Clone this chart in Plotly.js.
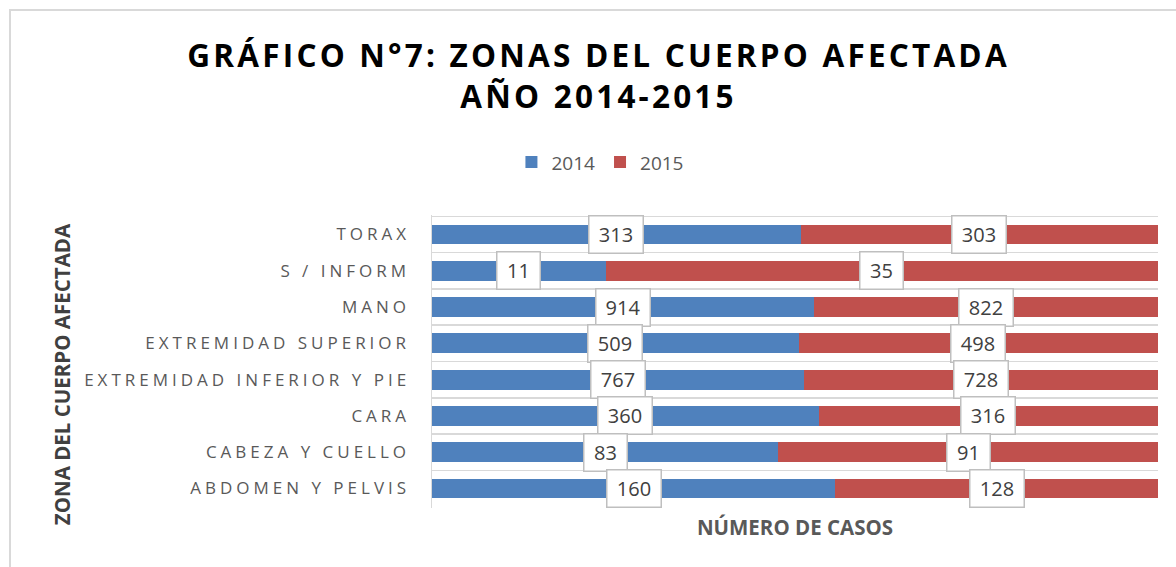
<!DOCTYPE html>
<html>
<head>
<meta charset="utf-8">
<script src="https://cdn.plot.ly/plotly-3.0.1.min.js"></script>
<style>
  html, body { margin: 0; padding: 0; background: #fff; }
  #chart { width: 1176px; height: 567px; position: absolute; left: 0; top: 0; }
  #frame { position: absolute; left: 9px; top: 9px; width: 1300px; height: 700px;
           border-left: 2px solid #d9d9d9; border-top: 2px solid #d9d9d9; pointer-events: none; }
  .ytick text { letter-spacing: 4px; }
  .gtitle { letter-spacing: 3.2px; }
</style>
</head>
<body>
<div id="chart"></div>
<div id="frame"></div>
<script>
// Data (top to bottom as shown)
const categories = ["TORAX", "S / INFORM", "MANO", "EXTREMIDAD SUPERIOR",
  "EXTREMIDAD INFERIOR Y PIE", "CARA", "CABEZA Y CUELLO", "ABDOMEN Y PELVIS"];
const values2014 = [313, 11, 914, 509, 767, 360, 83, 160];
const values2015 = [303, 35, 822, 498, 728, 316, 91, 128];
const seriesNames = ["2014", "2015"];
const colors = ["#4f81bd", "#c0504d"];

const traces = [values2014, values2015].map((vals, i) => ({
  type: "bar",
  orientation: "h",
  name: seriesNames[i],
  y: categories,
  x: vals,
  marker: { color: colors[i] },
  hoverinfo: "x+y+name"
}));

// Data labels at centre of each normalized segment
const annotations = [];
categories.forEach((c, k) => {
  const total = values2014[k] + values2015[k];
  const p1 = values2014[k] / total * 100;
  const p2 = values2015[k] / total * 100;
  [[values2014[k], p1 / 2], [values2015[k], p1 + p2 / 2]].forEach(([v, xc]) => {
    const txt = String(v);
    annotations.push({
      x: xc, y: c, xref: "x", yref: "y", text: txt, showarrow: false,
      width: 20 + 11 * txt.length, height: 36, align: "center", valign: "middle",
      font: { family: "Open Sans, sans-serif", size: 20, color: "#404040" },
      bgcolor: "#ffffff", bordercolor: "#bfbfbf", borderwidth: 1.5, borderpad: 0
    });
  });
});
annotations.push({
  text: "ZONA DEL CUERPO AFECTADA", textangle: -90, showarrow: false,
  xref: "paper", yref: "paper", x: -0.5096, y: 0.457, xanchor: "center", yanchor: "middle",
  font: { family: "Open Sans, sans-serif", size: 20.5, color: "#404040", weight: "bold" }
});

const layout = {
  width: 1176, height: 567,
  margin: { l: 432, r: 18, t: 215, b: 59 },
  paper_bgcolor: "#ffffff", plot_bgcolor: "#ffffff",
  barmode: "stack", barnorm: "percent", bargap: 0.45,
  title: {
    text: "<b>GRÁFICO N°7: ZONAS DEL CUERPO AFECTADA<br>AÑO 2014-2015</b>",
    x: 0.509, xanchor: "center", y: 0.881, yanchor: "middle", yref: "container",
    font: { family: "Open Sans, sans-serif", size: 31.5, color: "#000000" }
  },
  showlegend: true,
  legend: {
    orientation: "h", x: 0.232, xanchor: "center", y: 1.18, yanchor: "middle",
    font: { family: "Open Sans, sans-serif", size: 19, color: "#595959" },
    itemwidth: 30, traceorder: "normal"
  },
  xaxis: {
    range: [0, 100], showticklabels: false, showgrid: false, zeroline: false,
    showline: false, ticks: "",
    title: { text: "<b>NÚMERO DE CASOS</b>", standoff: 12,
      font: { family: "Open Sans, sans-serif", size: 20.5, color: "#595959" } }
  },
  yaxis: {
    type: "category", autorange: "reversed",
    tickson: "boundaries", showgrid: true, gridcolor: "#d9d9d9", gridwidth: 1.5,
    showline: true, linecolor: "#d9d9d9", linewidth: 1.5, mirror: false,
    ticks: "", ticklabelstandoff: 17,
    tickfont: { family: "Open Sans, sans-serif", size: 17, color: "#595959" }
  },
  annotations: annotations
};

Plotly.newPlot("chart", traces, layout, { displayModeBar: false, staticPlot: true });
</script>
</body>
</html>
